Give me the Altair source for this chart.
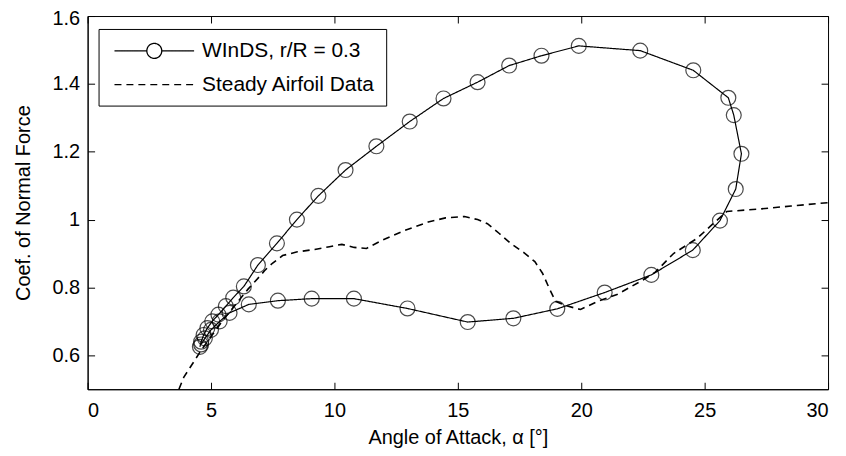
import altair as alt
import pandas as pd

# WInDS, r/R = 0.3 (hysteresis loop, in path order)
winds_alpha = [4.55, 4.60, 4.70, 4.85, 5.05, 5.30, 5.60, 5.90, 6.33, 6.90,
               7.67, 8.48, 9.35, 10.45, 11.70, 13.05, 14.42, 15.80, 17.08, 18.39,
               19.90, 22.39, 24.54, 25.96, 26.18, 26.49, 26.26, 25.62, 24.52, 22.84,
               20.95, 19.03, 17.25, 15.40, 12.96, 10.79, 9.08, 7.71, 6.53, 5.75,
               5.35, 5.00, 4.75, 4.60]
winds_cn = [0.625, 0.640, 0.660, 0.680, 0.700, 0.720, 0.745, 0.770, 0.803, 0.866,
            0.930, 1.000, 1.070, 1.146, 1.216, 1.289, 1.357, 1.405, 1.454, 1.483,
            1.512, 1.498, 1.440, 1.359, 1.308, 1.194, 1.090, 0.997, 0.910, 0.837,
            0.785, 0.737, 0.709, 0.698, 0.738, 0.767, 0.767, 0.761, 0.750, 0.725,
            0.700, 0.675, 0.650, 0.632]

# Steady airfoil data
steady_alpha = [3.70, 3.90, 4.25, 4.60, 5.00, 5.50, 6.00, 6.50, 7.00, 7.20,
                7.50, 7.90, 8.50, 9.20, 9.80, 10.30, 10.80, 11.30, 11.90, 12.85,
                13.80, 14.50, 15.27, 15.80, 16.20, 16.68, 17.15, 17.69, 18.12, 18.43,
                18.70, 18.96, 19.44, 19.97, 20.70, 21.45, 22.50, 23.00, 23.74, 24.70,
                25.30, 25.90, 27.20, 28.50, 30.00]
steady_cn = [0.500, 0.536, 0.575, 0.615, 0.655, 0.705, 0.750, 0.795, 0.835, 0.852,
             0.872, 0.894, 0.905, 0.912, 0.920, 0.927, 0.918, 0.915, 0.938, 0.968,
             0.993, 1.005, 1.009, 1.000, 0.988, 0.959, 0.929, 0.902, 0.876, 0.842,
             0.798, 0.759, 0.745, 0.735, 0.760, 0.779, 0.822, 0.845, 0.900, 0.945,
             0.985, 1.024, 1.031, 1.040, 1.050]

series_names = ["WInDS, r/R = 0.3", "Steady Airfoil Data"]
x_ticks = [0, 5, 10, 15, 20, 25, 30]
y_ticks = [0.6, 0.8, 1.0, 1.2, 1.4, 1.6]

df_w = pd.DataFrame({"alpha": winds_alpha, "cn": winds_cn,
                     "series": series_names[0], "idx": range(len(winds_alpha))})
df_s = pd.DataFrame({"alpha": steady_alpha, "cn": steady_cn,
                     "series": series_names[1], "idx": range(len(steady_alpha))})

FONT = "Liberation Sans"
FS = 20
W, H = 744, 375

xscale = alt.Scale(domain=[0, 30], nice=False, zero=False)
yscale = alt.Scale(domain=[0.5, 1.6], nice=False, zero=False)
dash_scale = alt.Scale(domain=series_names, range=[[1, 0], [7, 5]])

# legend symbols: symbolSize 400 -> path unit = 10 px
legend_path = ("M-4,0L-0.75,0M0.75,0L4,0"
               "M-0.75,0A0.75,0.75,0,1,1,0.75,0"
               "A0.75,0.75,0,1,1,-0.75,0")
shape_expr = ("datum.label === '" + series_names[0] + "' ? '" + legend_path +
              "' : 'M-4,0L4,0'")

legend = alt.Legend(
    title=None, orient="none", legendX=11, legendY=13,
    strokeColor="black", fillColor="white", padding=11, rowPadding=12,
    labelFont=FONT, labelFontSize=21, labelColor="black", labelLimit=400,
    symbolType=alt.ExprRef(expr=shape_expr),
    symbolSize=400, symbolStrokeWidth=1.3, symbolStrokeColor="black",
    symbolFillColor="white", symbolOffset=34, labelOffset=37,
)

axis_style = dict(
    grid=False, domainColor="black", tickColor="black", domainWidth=1, tickWidth=1,
    labelFont=FONT, labelFontSize=FS, labelColor="black",
    titleFont=FONT, titleFontSize=FS, titleColor="black", titleFontWeight="normal",
)

x_axis = alt.Axis(values=x_ticks, format="d", ticks=False, labelPadding=11,
                  title="Angle of Attack, α [°]", titlePadding=8, **axis_style)
y_axis = alt.Axis(values=y_ticks, format="~g", ticks=False, labelPadding=8,
                  labelOffset={"condition": {"test": "datum.value >= 1.59", "value": 3},
                               "value": 0},
                  title="Coef. of Normal Force", titlePadding=19, **axis_style)


def tick_axis(orient, values, offset):
    return alt.Axis(orient=orient, values=values, labels=False, title=None,
                    domain=False, tickSize=7, offset=alt.ExprRef(expr=str(-offset)),
                    **axis_style)


line_w = alt.Chart(df_w).mark_line(color="black", strokeWidth=1.2).encode(
    x=alt.X("alpha:Q", scale=xscale, axis=x_axis),
    y=alt.Y("cn:Q", scale=yscale, axis=y_axis),
    strokeDash=alt.StrokeDash("series:N", scale=dash_scale, legend=legend),
    order="idx:Q",
)

line_s = alt.Chart(df_s).mark_line(color="black", strokeWidth=1.6, clip=True).encode(
    x=alt.X("alpha:Q", scale=xscale, axis=None),
    y=alt.Y("cn:Q", scale=yscale, axis=None),
    strokeDash=alt.StrokeDash("series:N", scale=dash_scale, legend=legend),
    order="idx:Q",
)

points = alt.Chart(df_w).mark_point(shape="circle", filled=False, color="black",
                                    size=225, strokeWidth=1.2).encode(
    x=alt.X("alpha:Q", scale=xscale, axis=None),
    y=alt.Y("cn:Q", scale=yscale, axis=None),
)

# inward ticks: an axis of the opposite side moved onto this side
ticks_bl = alt.Chart(df_s).mark_point(opacity=0).encode(
    x=alt.X("alpha:Q", scale=xscale, axis=tick_axis("top", x_ticks, H)),
    y=alt.Y("cn:Q", scale=yscale, axis=tick_axis("right", y_ticks, W)),
)
ticks_tr = alt.Chart(df_s).mark_point(opacity=0).encode(
    x=alt.X("alpha:Q", scale=xscale, axis=tick_axis("bottom", x_ticks, H)),
    y=alt.Y("cn:Q", scale=yscale, axis=tick_axis("left", y_ticks, W)),
)

chart = alt.layer(line_w, line_s, points, ticks_bl, ticks_tr).resolve_axis(
    x="independent", y="independent"
).properties(
    width=W, height=H,
    background="white",
    autosize=alt.AutoSizeParams(type="none"),
    padding={"left": 80, "top": 7, "right": 10, "bottom": 60},
).configure_view(
    stroke="black", strokeWidth=1
)

chart.save("out.html", embed_options={"renderer": "svg", "actions": False})
